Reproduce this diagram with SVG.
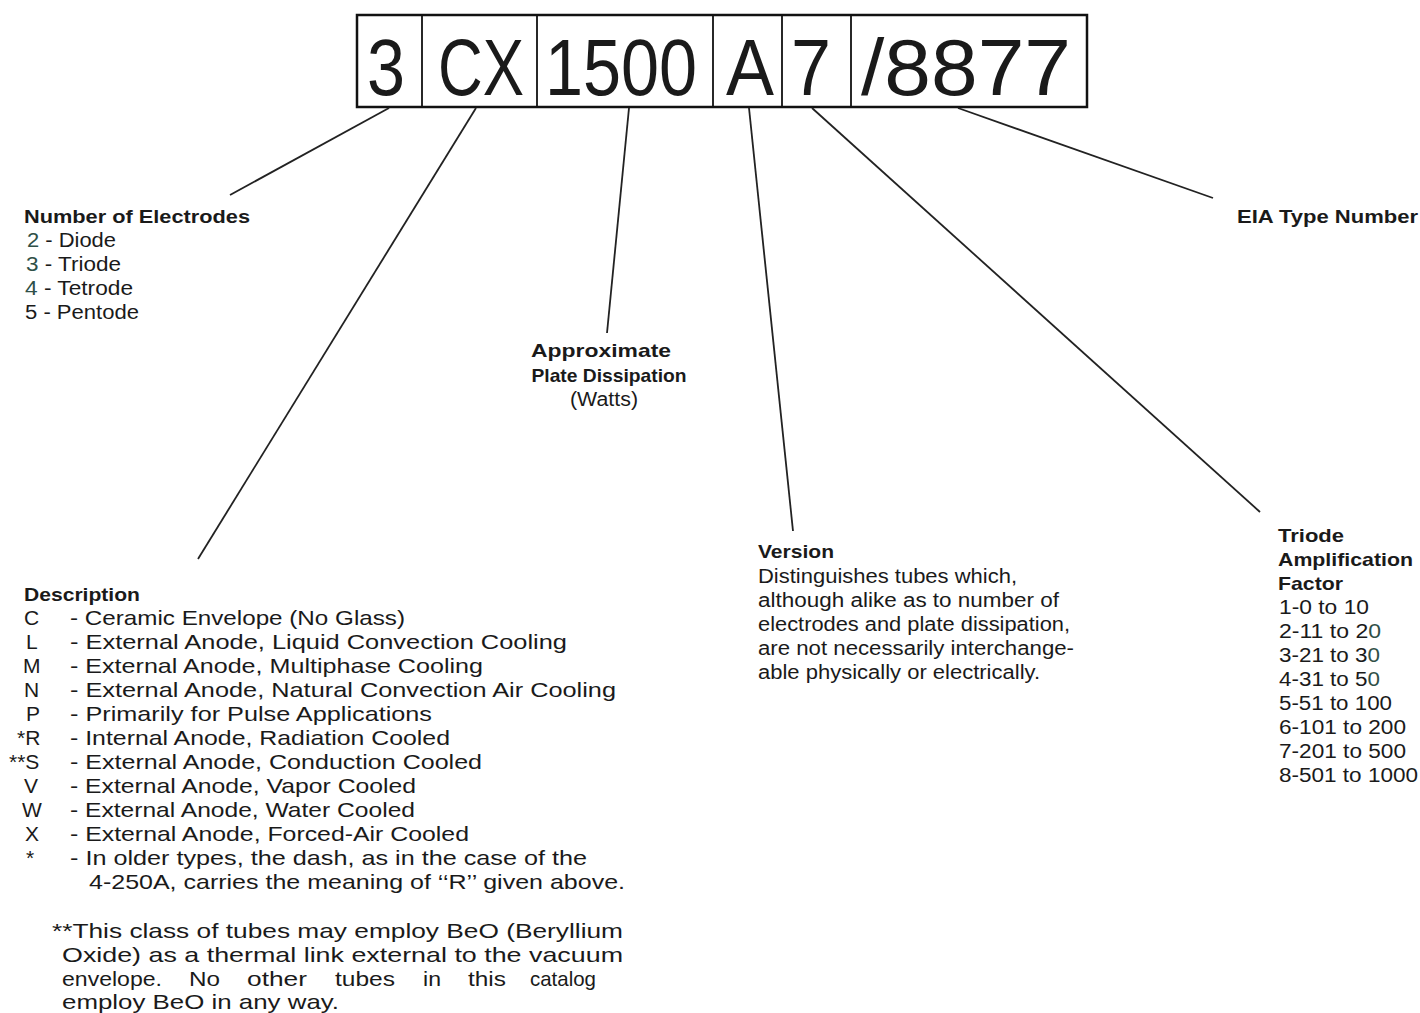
<svg xmlns="http://www.w3.org/2000/svg" width="1420" height="1013" viewBox="0 0 1420 1013">
<style>
text{font-family:"Liberation Sans",Arial,sans-serif;fill:#1a1a1a}
.big{font-size:80px;text-anchor:middle}
.b{font-weight:bold;font-size:19px}
.t{font-size:20px}
.d{font-size:21px}
.g{fill:#2f5048}
.conn line{stroke:#222;stroke-width:1.8;fill:none}
</style>
<rect width="1420" height="1013" fill="#ffffff"/>
<g id="code">
<rect x="357" y="15" width="730" height="92" fill="none" stroke="#111" stroke-width="2.5"/>
<g stroke="#111" stroke-width="1.8">
<line x1="422" y1="15" x2="422" y2="107"/>
<line x1="537" y1="15" x2="537" y2="107"/>
<line x1="713" y1="15" x2="713" y2="107"/>
<line x1="782" y1="15" x2="782" y2="107"/>
<line x1="851" y1="15" x2="851" y2="107"/>
</g>
<text class="big" x="386" y="95" textLength="38" lengthAdjust="spacingAndGlyphs">3</text>
<text class="big" x="481" y="95" textLength="86" lengthAdjust="spacingAndGlyphs">CX</text>
<text class="big" x="621" y="95" textLength="152" lengthAdjust="spacingAndGlyphs">1500</text>
<text class="big" x="750" y="95" textLength="48" lengthAdjust="spacingAndGlyphs">A</text>
<text class="big" x="811" y="95" textLength="40" lengthAdjust="spacingAndGlyphs">7</text>
<text class="big" x="966" y="95" textLength="210" lengthAdjust="spacingAndGlyphs">/8877</text>
</g>
<g class="conn" id="connectors">
<line x1="389" y1="108" x2="230" y2="195"/>
<line x1="476" y1="108" x2="198" y2="559"/>
<line x1="629" y1="108" x2="607" y2="333"/>
<line x1="749" y1="108" x2="793" y2="531"/>
<line x1="812" y1="108" x2="1260" y2="512"/>
<line x1="958" y1="108" x2="1213" y2="198"/>
</g>
<g id="electrodes">
<text class="b" x="24" y="223" textLength="226" lengthAdjust="spacingAndGlyphs">Number of Electrodes</text>
<text class="t" x="27" y="247" textLength="89" lengthAdjust="spacingAndGlyphs"><tspan class="g">2</tspan> - Diode</text>
<text class="t" x="26" y="271" textLength="95" lengthAdjust="spacingAndGlyphs"><tspan class="g">3</tspan> - Triode</text>
<text class="t" x="25" y="295" textLength="108" lengthAdjust="spacingAndGlyphs"><tspan class="g">4</tspan> - Tetrode</text>
<text class="t" x="25" y="319" textLength="114" lengthAdjust="spacingAndGlyphs">5 - Pentode</text>
</g>
<g id="dissipation">
<text class="b" x="601" y="357" text-anchor="middle" textLength="140" lengthAdjust="spacingAndGlyphs">Approximate</text>
<text class="b" x="609" y="382" text-anchor="middle" textLength="155" lengthAdjust="spacingAndGlyphs">Plate Dissipation</text>
<text class="t" x="604" y="406" text-anchor="middle" textLength="68" lengthAdjust="spacingAndGlyphs">(Watts)</text>
</g>
<g id="version">
<text class="b" x="758" y="558" textLength="76" lengthAdjust="spacingAndGlyphs">Version</text>
<text class="t" x="758" y="583" textLength="259" lengthAdjust="spacingAndGlyphs">Distinguishes tubes which,</text>
<text class="t" x="758" y="607" textLength="301" lengthAdjust="spacingAndGlyphs">although alike as to number of</text>
<text class="t" x="758" y="631" textLength="312" lengthAdjust="spacingAndGlyphs">electrodes and plate dissipation,</text>
<text class="t" x="758" y="655" textLength="316" lengthAdjust="spacingAndGlyphs">are not necessarily interchange-</text>
<text class="t" x="758" y="679" textLength="282" lengthAdjust="spacingAndGlyphs">able physically or electrically.</text>
</g>
<g id="eia">
<text class="b" x="1237" y="223" textLength="181" lengthAdjust="spacingAndGlyphs">EIA Type Number</text>
</g>
<g id="triode">
<text class="b" x="1278" y="542" textLength="66" lengthAdjust="spacingAndGlyphs">Triode</text>
<text class="b" x="1278" y="566" textLength="135" lengthAdjust="spacingAndGlyphs">Amplification</text>
<text class="b" x="1278" y="590" textLength="65" lengthAdjust="spacingAndGlyphs">Factor</text>
<text class="t" x="1279" y="614" textLength="90" lengthAdjust="spacingAndGlyphs">1-0 to 10</text>
<text class="t" x="1279" y="638" textLength="102" lengthAdjust="spacingAndGlyphs">2-11 to 2<tspan class="g">0</tspan></text>
<text class="t" x="1279" y="662" textLength="101" lengthAdjust="spacingAndGlyphs">3-21 to 3<tspan class="g">0</tspan></text>
<text class="t" x="1279" y="686" textLength="101" lengthAdjust="spacingAndGlyphs">4-31 to 5<tspan class="g">0</tspan></text>
<text class="t" x="1279" y="710" textLength="113" lengthAdjust="spacingAndGlyphs">5-51 to 100</text>
<text class="t" x="1279" y="734" textLength="127" lengthAdjust="spacingAndGlyphs">6-101 to 200</text>
<text class="t" x="1279" y="758" textLength="127" lengthAdjust="spacingAndGlyphs">7-201 to 500</text>
<text class="t" x="1279" y="782" textLength="139" lengthAdjust="spacingAndGlyphs">8-501 to 1000</text>
</g>
<g id="description">
<text class="b" x="24" y="601" textLength="116" lengthAdjust="spacingAndGlyphs">Description</text>
<text class="d" x="24" y="625">C</text>
<text class="d" x="70" y="625" textLength="335" lengthAdjust="spacingAndGlyphs">- Ceramic Envelope (No Glass)</text>
<text class="d" x="26" y="649">L</text>
<text class="d" x="70" y="649" textLength="497" lengthAdjust="spacingAndGlyphs">- External Anode, Liquid Convection Cooling</text>
<text class="d" x="23" y="673">M</text>
<text class="d" x="70" y="673" textLength="413" lengthAdjust="spacingAndGlyphs">- External Anode, Multiphase Cooling</text>
<text class="d" x="24" y="697">N</text>
<text class="d" x="70" y="697" textLength="546" lengthAdjust="spacingAndGlyphs">- External Anode, Natural Convection Air Cooling</text>
<text class="d" x="26" y="721">P</text>
<text class="d" x="70" y="721" textLength="362" lengthAdjust="spacingAndGlyphs">- Primarily for Pulse Applications</text>
<text class="d" x="17" y="745">*R</text>
<text class="d" x="70" y="745" textLength="380" lengthAdjust="spacingAndGlyphs">- Internal Anode, Radiation Cooled</text>
<text class="d" x="9" y="769">**S</text>
<text class="d" x="70" y="769" textLength="412" lengthAdjust="spacingAndGlyphs">- External Anode, Conduction Cooled</text>
<text class="d" x="24" y="793">V</text>
<text class="d" x="70" y="793" textLength="346" lengthAdjust="spacingAndGlyphs">- External Anode, Vapor Cooled</text>
<text class="d" x="22" y="817">W</text>
<text class="d" x="70" y="817" textLength="345" lengthAdjust="spacingAndGlyphs">- External Anode, Water Cooled</text>
<text class="d" x="25" y="841">X</text>
<text class="d" x="70" y="841" textLength="399" lengthAdjust="spacingAndGlyphs">- External Anode, Forced-Air Cooled</text>
<text class="d" x="26" y="865">*</text>
<text class="d" x="70" y="865" textLength="517" lengthAdjust="spacingAndGlyphs">- In older types, the dash, as in the case of the</text>
<text class="d" x="89" y="889" textLength="536" lengthAdjust="spacingAndGlyphs">4-250A, carries the meaning of ‘‘R’’ given above.</text>
<text class="d" x="52" y="938" textLength="571" lengthAdjust="spacingAndGlyphs">**This class of tubes may employ BeO (Beryllium</text>
<text class="d" x="62" y="962" textLength="561" lengthAdjust="spacingAndGlyphs">Oxide) as a thermal link external to the vacuum</text>
<text class="d" x="62" y="986" textLength="100" lengthAdjust="spacingAndGlyphs">envelope.</text>
<text class="d" x="189" y="986" textLength="31" lengthAdjust="spacingAndGlyphs">No</text>
<text class="d" x="247" y="986" textLength="60" lengthAdjust="spacingAndGlyphs">other</text>
<text class="d" x="335" y="986" textLength="60" lengthAdjust="spacingAndGlyphs">tubes</text>
<text class="d" x="423" y="986" textLength="18" lengthAdjust="spacingAndGlyphs">in</text>
<text class="d" x="468" y="986" textLength="38" lengthAdjust="spacingAndGlyphs">this</text>
<text class="d" x="530" y="986" textLength="66" lengthAdjust="spacingAndGlyphs">catalog</text>
<text class="d" x="62" y="1009" textLength="277" lengthAdjust="spacingAndGlyphs">employ BeO in any way.</text>
</g>
</svg>
